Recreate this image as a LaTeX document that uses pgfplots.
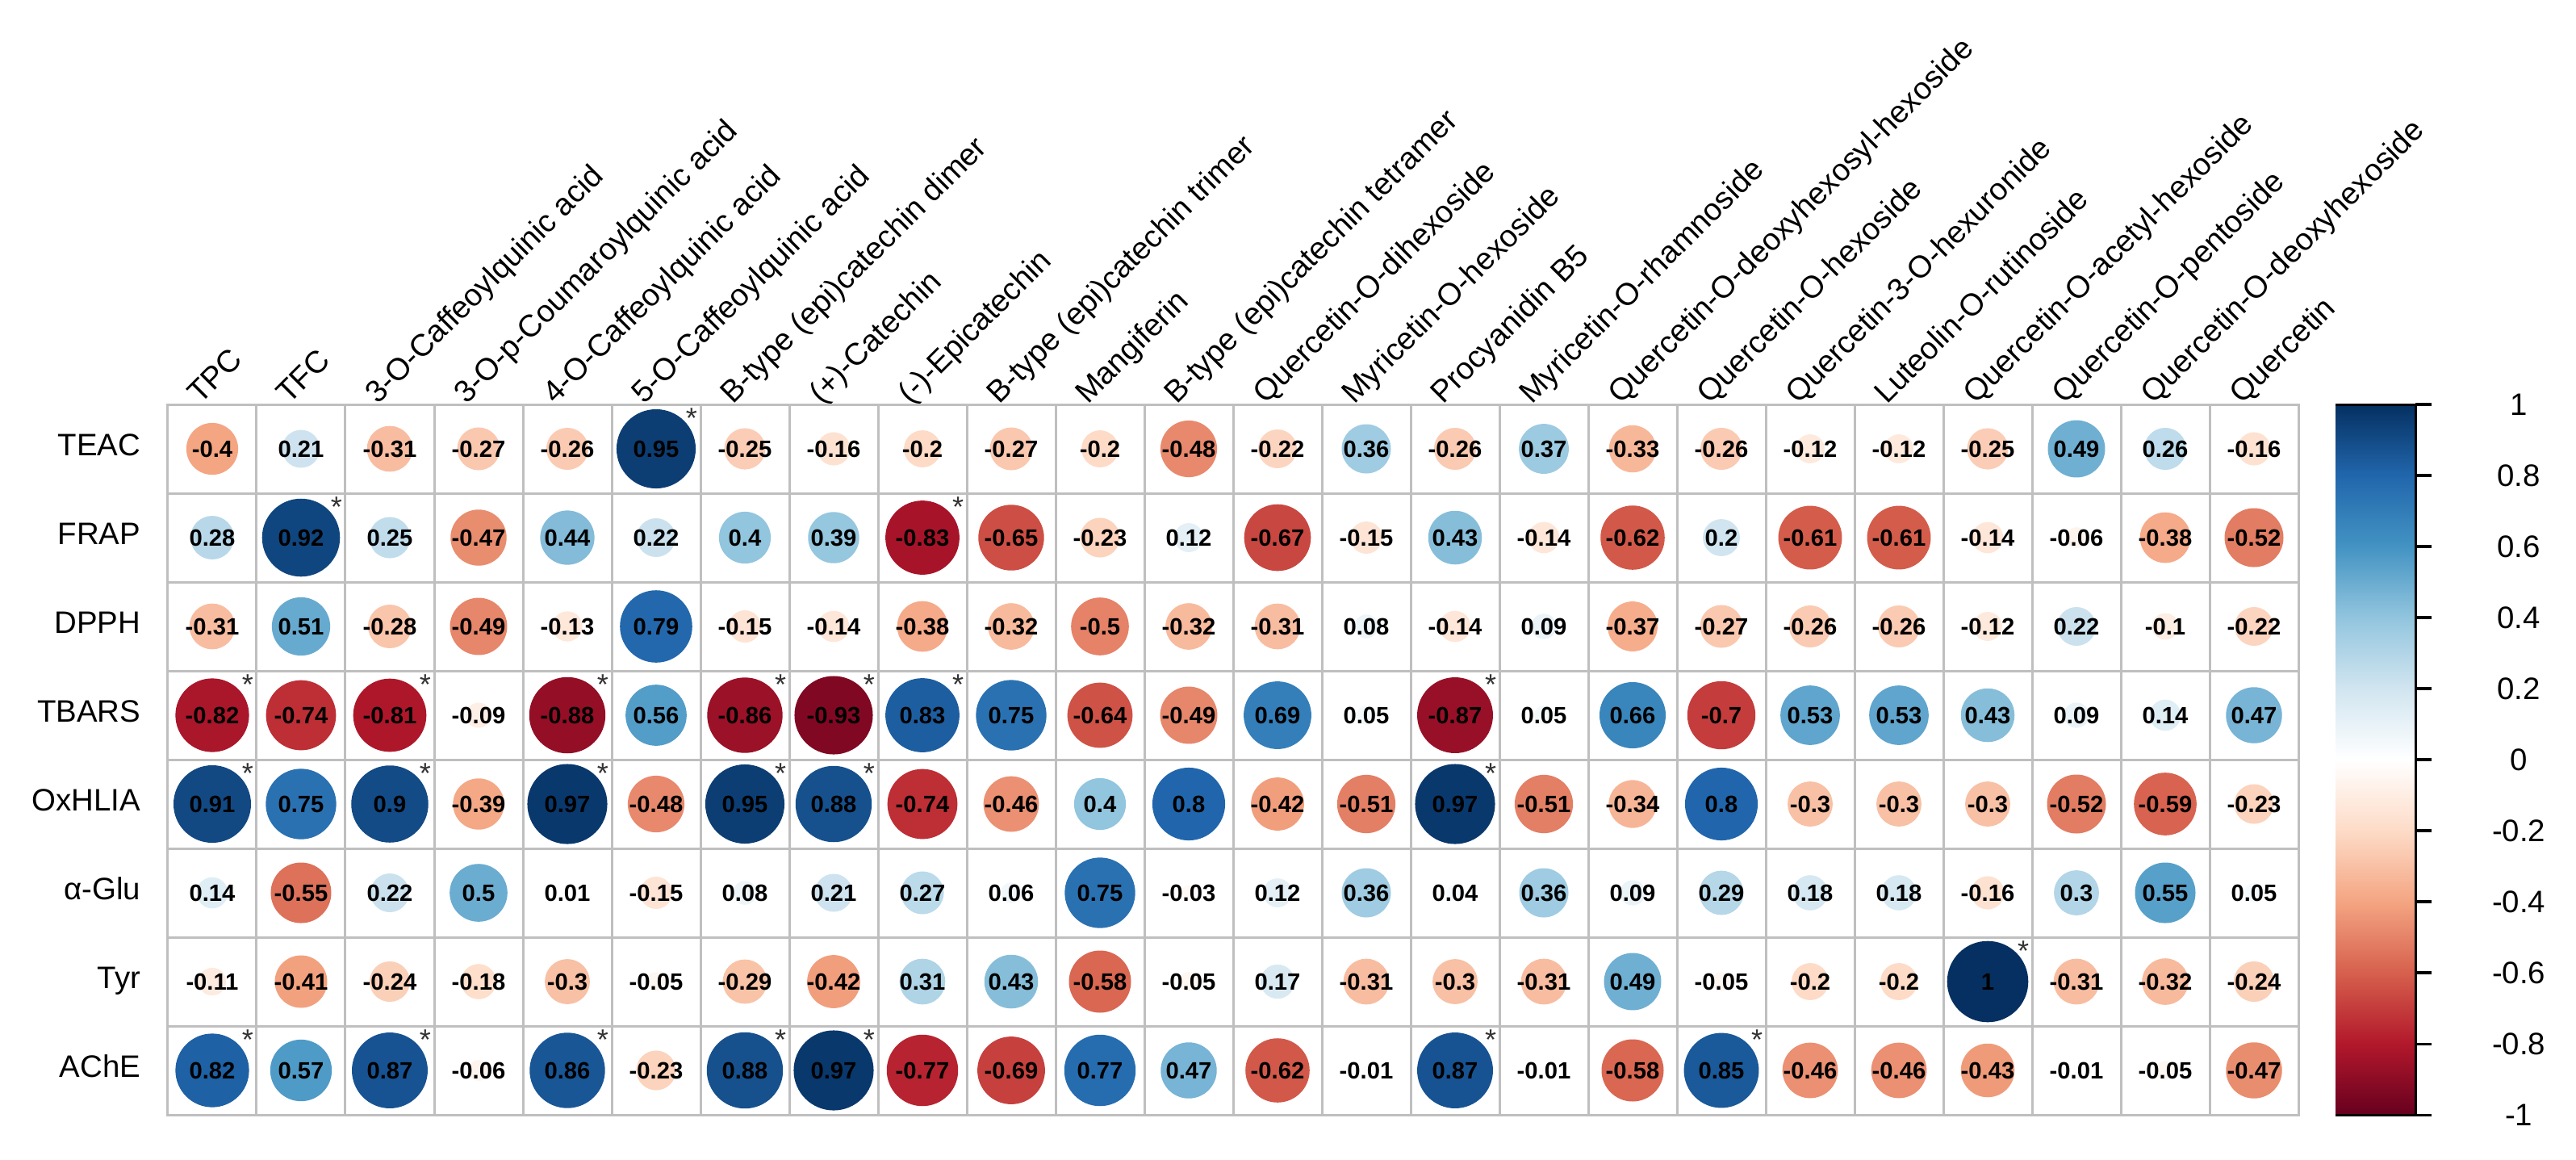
\documentclass[border=0pt]{standalone}
\usepackage{fontspec}
\setmainfont{Liberation Sans}
\usepackage{pgfplots}
\usepackage{pgfplotstable}
\pgfplotsset{compat=1.18}

% correlations: x = compound (column), y = assay (row, 1 = TEAC ... 8 = AChE)
\pgfplotstableread{
x y r
1 1 -0.4
2 1 0.21
3 1 -0.31
4 1 -0.27
5 1 -0.26
6 1 0.95
7 1 -0.25
8 1 -0.16
9 1 -0.2
10 1 -0.27
11 1 -0.2
12 1 -0.48
13 1 -0.22
14 1 0.36
15 1 -0.26
16 1 0.37
17 1 -0.33
18 1 -0.26
19 1 -0.12
20 1 -0.12
21 1 -0.25
22 1 0.49
23 1 0.26
24 1 -0.16
1 2 0.28
2 2 0.92
3 2 0.25
4 2 -0.47
5 2 0.44
6 2 0.22
7 2 0.4
8 2 0.39
9 2 -0.83
10 2 -0.65
11 2 -0.23
12 2 0.12
13 2 -0.67
14 2 -0.15
15 2 0.43
16 2 -0.14
17 2 -0.62
18 2 0.2
19 2 -0.61
20 2 -0.61
21 2 -0.14
22 2 -0.06
23 2 -0.38
24 2 -0.52
1 3 -0.31
2 3 0.51
3 3 -0.28
4 3 -0.49
5 3 -0.13
6 3 0.79
7 3 -0.15
8 3 -0.14
9 3 -0.38
10 3 -0.32
11 3 -0.5
12 3 -0.32
13 3 -0.31
14 3 0.08
15 3 -0.14
16 3 0.09
17 3 -0.37
18 3 -0.27
19 3 -0.26
20 3 -0.26
21 3 -0.12
22 3 0.22
23 3 -0.1
24 3 -0.22
1 4 -0.82
2 4 -0.74
3 4 -0.81
4 4 -0.09
5 4 -0.88
6 4 0.56
7 4 -0.86
8 4 -0.93
9 4 0.83
10 4 0.75
11 4 -0.64
12 4 -0.49
13 4 0.69
14 4 0.05
15 4 -0.87
16 4 0.05
17 4 0.66
18 4 -0.7
19 4 0.53
20 4 0.53
21 4 0.43
22 4 0.09
23 4 0.14
24 4 0.47
1 5 0.91
2 5 0.75
3 5 0.9
4 5 -0.39
5 5 0.97
6 5 -0.48
7 5 0.95
8 5 0.88
9 5 -0.74
10 5 -0.46
11 5 0.4
12 5 0.8
13 5 -0.42
14 5 -0.51
15 5 0.97
16 5 -0.51
17 5 -0.34
18 5 0.8
19 5 -0.3
20 5 -0.3
21 5 -0.3
22 5 -0.52
23 5 -0.59
24 5 -0.23
1 6 0.14
2 6 -0.55
3 6 0.22
4 6 0.5
5 6 0.01
6 6 -0.15
7 6 0.08
8 6 0.21
9 6 0.27
10 6 0.06
11 6 0.75
12 6 -0.03
13 6 0.12
14 6 0.36
15 6 0.04
16 6 0.36
17 6 0.09
18 6 0.29
19 6 0.18
20 6 0.18
21 6 -0.16
22 6 0.3
23 6 0.55
24 6 0.05
1 7 -0.11
2 7 -0.41
3 7 -0.24
4 7 -0.18
5 7 -0.3
6 7 -0.05
7 7 -0.29
8 7 -0.42
9 7 0.31
10 7 0.43
11 7 -0.58
12 7 -0.05
13 7 0.17
14 7 -0.31
15 7 -0.3
16 7 -0.31
17 7 0.49
18 7 -0.05
19 7 -0.2
20 7 -0.2
21 7 1
22 7 -0.31
23 7 -0.32
24 7 -0.24
1 8 0.82
2 8 0.57
3 8 0.87
4 8 -0.06
5 8 0.86
6 8 -0.23
7 8 0.88
8 8 0.97
9 8 -0.77
10 8 -0.69
11 8 0.77
12 8 0.47
13 8 -0.62
14 8 -0.01
15 8 0.87
16 8 -0.01
17 8 -0.58
18 8 0.85
19 8 -0.46
20 8 -0.46
21 8 -0.43
22 8 -0.01
23 8 -0.05
24 8 -0.47
}\corrdata

% significant cells (column, row)
\pgfplotstableread{
x y
6 1
2 2
9 2
1 4
3 4
5 4
7 4
8 4
9 4
15 4
1 5
3 5
5 5
7 5
8 5
15 5
21 7
1 8
3 8
5 8
7 8
8 8
15 8
18 8
}\sigdata

\pgfplotsset{
  colormap={rdbu}{rgb255=(103,0,31) rgb255=(178,24,43) rgb255=(214,96,77)
    rgb255=(244,165,130) rgb255=(253,219,199) rgb255=(255,255,255)
    rgb255=(209,229,240) rgb255=(146,197,222) rgb255=(67,147,195)
    rgb255=(33,102,172) rgb255=(5,48,97)},
}

\begin{document}
\begin{tikzpicture}
\useasboundingbox (-52pt,-13.75pt) rectangle (746pt,345.25pt);
\begin{axis}[
  name=main,
  scale only axis, width=660pt, height=220pt,
  xmin=0.5, xmax=24.5, ymin=0.5, ymax=8.5, y dir=reverse,
  xtick={1,...,24},
  xticklabels={TPC, TFC, 3-O-Caffeoylquinic acid, 3-O-p-Coumaroylquinic acid,
    4-O-Caffeoylquinic acid, 5-O-Caffeoylquinic acid, B-type (epi)catechin dimer,
    (+)-Catechin, (-)-Epicatechin, B-type (epi)catechin trimer, Mangiferin,
    B-type (epi)catechin tetramer, Quercetin-O-dihexoside, Myricetin-O-hexoside,
    Procyanidin B5, Myricetin-O-rhamnoside, Quercetin-O-deoxyhexosyl-hexoside,
    Quercetin-O-hexoside, Quercetin-3-O-hexuronide, Luteolin-O-rutinoside,
    Quercetin-O-acetyl-hexoside, Quercetin-O-pentoside, Quercetin-O-deoxyhexoside,
    Quercetin},
  xticklabel pos=upper,
  ytick={1,...,8},
  yticklabels={TEAC, FRAP, DPPH, TBARS, OxHLIA, α-Glu, Tyr, AChE},
  tick label style={font=\fontsize{9.6}{11.5}\selectfont},
  xticklabel style={rotate=45, anchor=base west, inner sep=0pt, xshift=-3pt, yshift=2.5pt},
  yticklabel style={anchor=base east, inner sep=0pt, xshift=-8.25pt, yshift=-2.2pt},
  major tick length=0pt, minor tick length=0pt,
  minor xtick={0.5,1.5,...,24.5}, minor ytick={0.5,1.5,...,8.5},
  grid=minor, minor grid style={gray!50, line width=0.75pt},
  axis line style={gray!50, line width=0.75pt},
  colormap name=rdbu, point meta min=-1, point meta max=1,
  colorbar, colorbar/width=24.75pt,
  colorbar style={
    at={(parent axis.north east)}, anchor=north west, xshift=3pt,
    scale only axis, width=24.75pt, height=220pt,
    ytick={-1,-0.8,-0.6,-0.4,-0.2,0,0.2,0.4,0.6,0.8,1},
    yticklabels={-1,-0.8,-0.6,-0.4,-0.2,0,0.2,0.4,0.6,0.8,1},
    ytick pos=right, yticklabel pos=right,
    tick align=outside, major tick length=5pt,
    tick style={black, line width=0.75pt},
    axis line style={draw=none},
    yticklabel style={anchor=center, xshift=27pt, font=\fontsize{9.6}{11.5}\selectfont},
  },
]
% circle radius 0.45*sqrt(|r|) of a 27.5pt cell; |r| recovered from the mapped meta (0..1000)
\addplot[scatter, only marks, mark=*,
  point meta=explicit,
  scatter/use mapped color={draw=mapped color, fill=mapped color},
  scatter/@pre marker code/.append code={%
    \pgfmathsetmacro\crad{12.375*sqrt(abs(\pgfplotspointmetatransformed/500-1))}%
    \pgfsetplotmarksize{\crad pt}},
  nodes near coords*={\pgfmathprintnumber[fixed, precision=2, assume math mode=true]{\pgfplotspointmeta}},
  every node near coord/.style={anchor=center, text=black,
    font=\bfseries\fontsize{7.3}{8}\selectfont}]
  table[x=x, y=y, meta=r] {\corrdata};
\addplot[draw=none, mark=none, nodes near coords={*},
  every node near coord/.style={anchor=base, xshift=11pt, yshift=6.3pt,
    text=black!80, font=\fontsize{9}{9}\selectfont}]
  table[x=x, y=y] {\sigdata};
\end{axis}
% colour-bar frame (bottom, right, top) and its outward ticks every 0.2
\draw[black, line width=0.75pt]
  ([xshift=11.54pt]main.south east) -- ([xshift=36.29pt]main.south east)
  -- ([xshift=36.29pt]main.north east) -- ([xshift=11.54pt]main.north east);
\foreach \k in {0,...,10}
  \draw[black, line width=0.75pt] ([xshift=36.29pt, yshift=\k*22pt]main.south east) -- ++(5pt,0);
\end{tikzpicture}
\end{document}
